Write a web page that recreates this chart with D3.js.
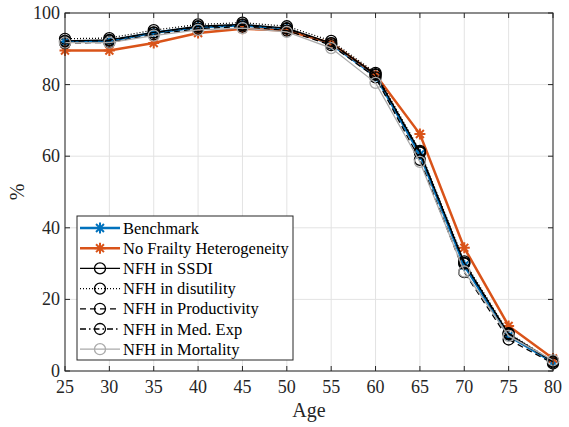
<!DOCTYPE html>
<html><head><meta charset="utf-8">
<script src="https://cdn.jsdelivr.net/npm/d3@7/dist/d3.min.js"></script>
<style>body{margin:0;background:#fff}svg{display:block}</style>
</head><body>
<script>
const ages = [25,30,35,40,45,50,55,60,65,70,75,80];
const benchmark    = [92.0,92.2,94.5,96.0,96.6,95.5,91.3,82.4,60.5,29.5,9.8,2.5];
const noFrailty    = [89.5,89.5,91.6,94.4,95.6,95.1,91.6,82.8,66.2,34.4,12.6,3.5];
const nfhSSDI      = [92.2,92.5,94.6,96.3,96.8,95.8,91.6,82.9,61.2,30.2,10.4,2.6];
const nfhDisutil   = [92.8,93.0,95.2,96.8,97.3,96.3,92.2,83.3,61.5,30.6,10.6,2.7];
const nfhProd      = [91.6,91.8,94.0,95.6,96.2,95.1,91.0,82.0,59.0,27.6,8.8,2.1];
const nfhMedExp    = [92.1,92.3,94.5,96.1,96.6,95.6,91.5,82.7,61.0,30.0,10.2,2.5];
const nfhMortality = [91.7,91.7,93.7,95.3,95.8,94.7,90.2,80.5,58.4,27.8,9.8,3.0];
const seriesNames = ["Benchmark","No Frailty Heterogeneity","NFH in SSDI","NFH in disutility","NFH in Productivity","NFH in Med. Exp","NFH in Mortality"];
const xTicks = [25,30,35,40,45,50,55,60,65,70,75,80];
const yTicks = [0,20,40,60,80,100];

const W=569,H=427, m={l:65,r:16,t:13,b:56};
const FONT="'Liberation Serif','Times New Roman',serif";
const svg=d3.select("body").append("svg").attr("width",W).attr("height",H).attr("font-family",FONT);
const x=d3.scaleLinear().domain([25,80]).range([m.l,W-m.r]);
const y=d3.scaleLinear().domain([0,100]).range([H-m.b,m.t]);
const axC="#262626";

const g=svg.append("g");
g.selectAll(".gx").data(xTicks).join("line").attr("x1",d=>x(d)).attr("x2",d=>x(d)).attr("y1",y(0)).attr("y2",y(100)).attr("stroke","#e3e3e3").attr("stroke-width",1);
g.selectAll(".gy").data(yTicks).join("line").attr("y1",d=>y(d)).attr("y2",d=>y(d)).attr("x1",x(25)).attr("x2",x(80)).attr("stroke","#e3e3e3").attr("stroke-width",1);

const styles=[
 {data:benchmark,color:"#0072BD",w:2.5,dash:null,marker:"star"},
 {data:noFrailty,color:"#D95319",w:2.5,dash:null,marker:"star"},
 {data:nfhSSDI,color:"#000",w:1.3,dash:null,marker:"circle"},
 {data:nfhDisutil,color:"#000",w:1.3,dash:"1,2",marker:"circle"},
 {data:nfhProd,color:"#000",w:1.3,dash:"6,4",marker:"circle"},
 {data:nfhMedExp,color:"#000",w:1.3,dash:"6,3,1.5,3",marker:"circle"},
 {data:nfhMortality,color:"#aaaaaa",w:1.3,dash:null,marker:"circle"}
];
const line=d3.line().x((d,i)=>x(ages[i])).y(d=>y(d));

function drawMarker(sel,type,cx,cy,color,w){
  if(type==="star"){
    const r=5.5,rd=r*0.72;
    const p=`M${cx-r},${cy}L${cx+r},${cy}M${cx},${cy-r}L${cx},${cy+r}M${cx-rd},${cy-rd}L${cx+rd},${cy+rd}M${cx-rd},${cy+rd}L${cx+rd},${cy-rd}`;
    sel.append("path").attr("d",p).attr("stroke",color).attr("stroke-width",w).attr("fill","none");
  } else {
    sel.append("circle").attr("cx",cx).attr("cy",cy).attr("r",5.5).attr("fill","none").attr("stroke",color).attr("stroke-width",w);
  }
}

const plot=svg.append("g");
styles.forEach(s=>{
  plot.append("path").datum(s.data).attr("d",line).attr("fill","none").attr("stroke",s.color).attr("stroke-width",s.w).attr("stroke-dasharray",s.dash);
  const mg=plot.append("g");
  s.data.forEach((v,i)=>drawMarker(mg,s.marker,x(ages[i]),y(v),s.color,s.marker==="star"?2:1.3));
});

svg.append("rect").attr("x",x(25)).attr("y",y(100)).attr("width",x(80)-x(25)).attr("height",y(0)-y(100)).attr("fill","none").attr("stroke",axC).attr("stroke-width",1);
const tl=5;
const ax=svg.append("g").attr("stroke",axC).attr("stroke-width",1);
xTicks.forEach(t=>{
  ax.append("line").attr("x1",x(t)).attr("x2",x(t)).attr("y1",y(0)).attr("y2",y(0)-tl);
  ax.append("line").attr("x1",x(t)).attr("x2",x(t)).attr("y1",y(100)).attr("y2",y(100)+tl);
});
yTicks.forEach(t=>{
  ax.append("line").attr("y1",y(t)).attr("y2",y(t)).attr("x1",x(25)).attr("x2",x(25)+tl);
  ax.append("line").attr("y1",y(t)).attr("y2",y(t)).attr("x1",x(80)).attr("x2",x(80)-tl);
});
svg.selectAll(".xt").data(xTicks).join("text").attr("x",d=>x(d)).attr("y",y(0)+22).attr("text-anchor","middle").attr("font-size",18).attr("fill",axC).text(d=>d);
svg.selectAll(".yt").data(yTicks).join("text").attr("x",x(25)-5).attr("y",d=>y(d)+6).attr("text-anchor","end").attr("font-size",18).attr("fill",axC).text(d=>d);
svg.append("text").attr("x",(x(25)+x(80))/2).attr("y",417).attr("text-anchor","middle").attr("font-size",20).attr("fill",axC).text("Age");
svg.append("text").attr("transform",`translate(24,${(y(0)+y(100))/2}) rotate(-90)`).attr("text-anchor","middle").attr("font-size",20).attr("fill",axC).text("%");

const lg=svg.append("g");
const lx=77,ly=216,lw=216,lh=144;
lg.append("rect").attr("x",lx).attr("y",ly).attr("width",lw).attr("height",lh).attr("fill","#fff").attr("stroke",axC).attr("stroke-width",1);
styles.forEach((s,i)=>{
  const yy=ly+12+i*20.2;
  lg.append("line").attr("x1",lx+3).attr("x2",lx+43).attr("y1",yy).attr("y2",yy).attr("stroke",s.color).attr("stroke-width",s.w).attr("stroke-dasharray",s.dash);
  drawMarker(lg,s.marker,lx+23,yy,s.color,s.marker==="star"?2:1.3);
  lg.append("text").attr("x",lx+46).attr("y",yy+5.5).attr("font-size",16.5).attr("fill","#000").text(seriesNames[i]);
});
</script>
</body></html>
